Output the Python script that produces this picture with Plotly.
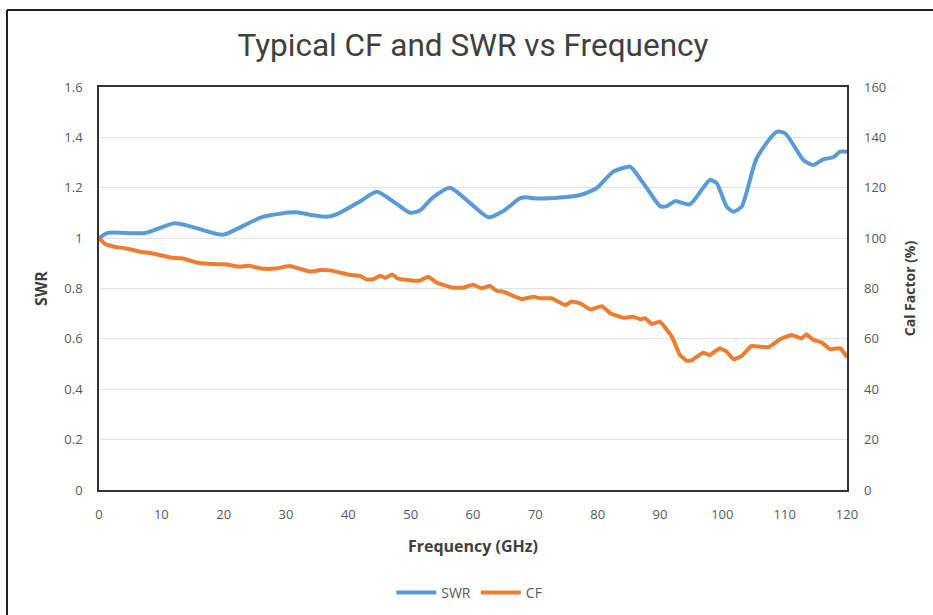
import plotly.graph_objects as go

# ---- data ----
swr_freq = [0, 1.4, 7.4, 12.2, 19.1, 20.2, 26.1, 29.3, 32.0, 34.1, 36.5, 38.1, 41.5, 44.6, 47.5,
            49.9, 51.5, 53.5, 56.3, 59.5, 62.5, 65.0, 67.5, 68.6, 69.7, 74.0, 77.2, 79.8, 82.5,
            85.2, 85.7, 87.9, 90.0, 91.1, 92.4, 94.8, 98.0, 99.1, 100.7, 101.8, 103.1, 105.5,
            108.7, 110.1, 113.0, 114.6, 116.2, 117.8, 118.9, 120]
swr_vals = [1.00, 1.021, 1.02, 1.059, 1.015, 1.015, 1.083, 1.098, 1.102, 1.092, 1.085, 1.094,
            1.14, 1.184, 1.14, 1.101, 1.11, 1.16, 1.200, 1.14, 1.083, 1.11, 1.158, 1.162, 1.158,
            1.161, 1.171, 1.198, 1.264, 1.284, 1.273, 1.198, 1.127, 1.127, 1.147, 1.134, 1.231,
            1.218, 1.125, 1.105, 1.125, 1.317, 1.422, 1.416, 1.310, 1.290, 1.313, 1.321, 1.343,
            1.343]

cf_freq = [0, 1.0, 2.6, 4.2, 6.8, 8.5, 11.7, 13.3, 15.9, 19.1, 20.2, 22.3, 24.0, 26.1, 28.2,
           30.6, 32.0, 33.9, 35.5, 37.1, 40.3, 41.9, 42.9, 44.0, 45.1, 45.9, 47.0, 48.0, 50.4,
           51.5, 52.8, 54.2, 56.8, 58.4, 60.0, 61.4, 62.7, 63.8, 64.9, 67.8, 69.7, 70.8, 72.6,
           74.8, 75.8, 77.2, 78.8, 80.7, 82.0, 84.1, 85.7, 86.8, 87.6, 88.7, 90.0, 91.9, 93.2,
           94.3, 95.1, 96.9, 98.0, 99.6, 100.7, 101.8, 103.1, 104.7, 106.1, 107.4, 109.3, 111.1,
           112.7, 113.5, 114.6, 115.9, 117.3, 118.9, 120]
cf_vals = [100, 97.7, 96.5, 96.0, 94.5, 94.0, 92.2, 92.0, 90.2, 89.6, 89.6, 88.7, 89.0, 87.9,
           87.9, 88.9, 88.0, 86.7, 87.3, 87.2, 85.4, 85.0, 83.6, 83.6, 85.1, 84.2, 85.6, 83.9,
           83.1, 83.1, 84.7, 82.3, 80.3, 80.3, 81.5, 80.1, 81.0, 79.1, 78.7, 75.8, 76.7, 76.1,
           76.1, 73.4, 74.8, 74.1, 71.7, 73.0, 70.2, 68.4, 68.8, 67.8, 68.2, 65.9, 66.8, 60.9,
           53.6, 51.3, 51.5, 54.5, 53.6, 56.3, 54.9, 51.9, 53.2, 57.2, 56.9, 56.7, 59.9, 61.5,
           60.2, 61.8, 59.6, 58.6, 55.9, 56.3, 52.7]

x_ticks = list(range(0, 121, 10))
swr_ticks = [0, 0.2, 0.4, 0.6, 0.8, 1.0, 1.2, 1.4, 1.6]
swr_tick_text = ["0", "0.2", "0.4", "0.6", "0.8", "1", "1.2", "1.4", "1.6"]
cf_ticks = [0, 20, 40, 60, 80, 100, 120, 140, 160]

title_text = "Typical CF and SWR vs Frequency"

FONT = "Open Sans"
TICK_COLOR = "#595959"
TITLE_COLOR = "#404040"

fig = go.Figure()
fig.add_trace(go.Scatter(x=swr_freq, y=swr_vals, name="SWR", mode="lines",
                         line=dict(color="#5B9BD5", width=4, shape="spline", smoothing=0.6),
                         yaxis="y"))
fig.add_trace(go.Scatter(x=cf_freq, y=cf_vals, name="CF", mode="lines",
                         line=dict(color="#ED7D31", width=4, shape="spline", smoothing=0.3),
                         yaxis="y2"))

W, H = 933, 615
L, T = 99, 87
PW, PH = 748, 403

fig.update_layout(
    width=W, height=H,
    margin=dict(l=L, r=W - L - PW, t=T, b=H - T - PH),
    paper_bgcolor="white", plot_bgcolor="white",
    font=dict(family=FONT, color=TICK_COLOR, size=13),
    title=dict(text=title_text, x=0.5, xref="paper", y=1 - 45 / H, yanchor="middle",
               font=dict(family="Roboto", size=31.5, color=TITLE_COLOR)),
    showlegend=True,
    legend=dict(orientation="h", x=0.495, xanchor="center",
                yref="container", y=1 - 593 / H, yanchor="middle",
                font=dict(size=14, color=TICK_COLOR), itemwidth=40, tracegroupgap=0),
    xaxis=dict(range=[0, 120], tickvals=x_ticks, showgrid=False, zeroline=False,
               showline=True, linecolor="#333333", linewidth=1.5, mirror=True,
               ticks="", ticklabelstandoff=12, automargin=False,
               title=dict(text="<b>Frequency (GHz)</b>", standoff=18,
                          font=dict(size=16, color=TITLE_COLOR))),
    yaxis=dict(range=[0, 1.6], tickvals=swr_ticks, ticktext=swr_tick_text,
               showgrid=True, gridcolor="#DCE2EA", gridwidth=1, zeroline=False,
               showline=True, linecolor="#333333", linewidth=1.5, mirror=True,
               ticks="", ticklabelstandoff=12, automargin=False,
               title=dict(text="<b>SWR</b>", standoff=13,
                          font=dict(size=16, color=TITLE_COLOR))),
    yaxis2=dict(range=[0, 160], tickvals=cf_ticks, overlaying="y", side="right",
                showgrid=False, zeroline=False, showline=False, ticks="",
                ticklabelstandoff=16, automargin=False,
                title=dict(text="<b>Cal Factor (%)</b>", standoff=19,
                           font=dict(size=14, color=TITLE_COLOR))),
)

# outer chart frame (top and left edges visible in the reference)
fx0 = (7 - L) / PW
fy1 = (T + PH - 10) / PH
fig.add_shape(type="line", xref="paper", yref="paper", x0=fx0, x1=1.2, y0=fy1, y1=fy1,
              line=dict(color="#222222", width=2))
fig.add_shape(type="line", xref="paper", yref="paper", x0=fx0, x1=fx0, y0=fy1, y1=-0.4,
              line=dict(color="#222222", width=2))

# remove the default page margin so the figure sits at the top-left corner of the window
fig.write_html("out.html", config={"displayModeBar": False},
               post_script="document.body.style.margin='0px';")
